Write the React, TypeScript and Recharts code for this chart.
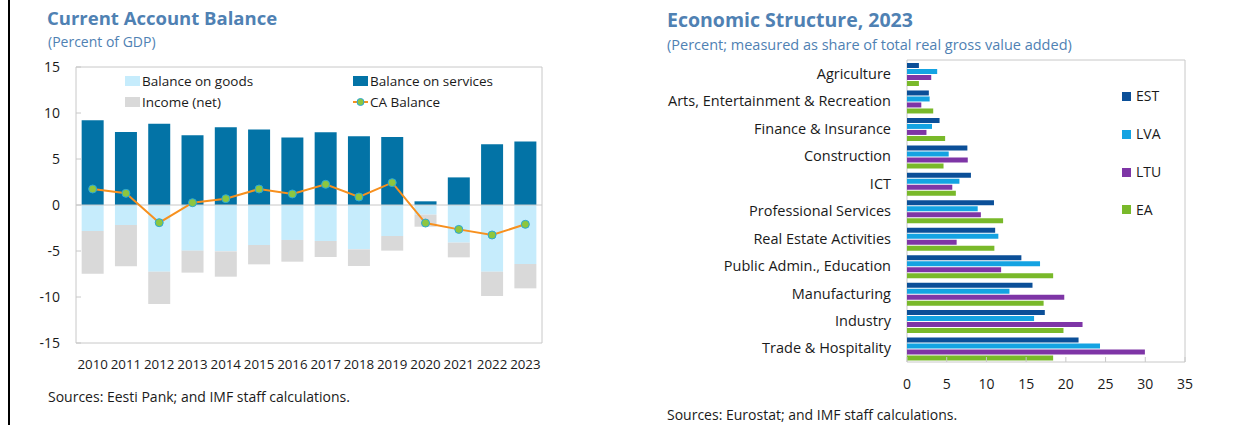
import React from 'react';
import {
  ComposedChart,
  BarChart,
  Bar,
  Line,
  XAxis,
  YAxis,
  ReferenceLine,
  ReferenceArea,
  Legend,
} from 'recharts';

// ---------- Left chart data: Current Account Balance (percent of GDP) ----------
const years = ['2010', '2011', '2012', '2013', '2014', '2015', '2016', '2017', '2018', '2019', '2020', '2021', '2022', '2023'];
const goodsBalance = [-2.83, -2.17, -7.25, -4.96, -5.04, -4.35, -3.8, -3.91, -4.82, -3.37, -1.05, -4.09, -7.25, -6.41];
const servicesBalance = [9.2, 7.93, 8.84, 7.57, 8.44, 8.22, 7.35, 7.9, 7.46, 7.39, 0.4, 3.0, 6.6, 6.9];
const incomeNet = [-4.63, -4.5, -3.51, -2.39, -2.75, -2.1, -2.36, -1.74, -1.81, -1.59, -1.31, -1.6, -2.64, -2.65];
const caBalance = [1.74, 1.27, -1.92, 0.25, 0.69, 1.74, 1.2, 2.25, 0.87, 2.43, -1.96, -2.65, -3.26, -2.1];
const caTicks = [-15, -10, -5, 0, 5, 10, 15];

// ---------- Right chart data: Economic Structure, 2023 ----------
const sectors = [
  'Agriculture',
  'Arts, Entertainment & Recreation',
  'Finance & Insurance',
  'Construction',
  'ICT',
  'Professional Services',
  'Real Estate Activities',
  'Public Admin., Education',
  'Manufacturing',
  'Industry',
  'Trade & Hospitality',
];
const est = [1.5, 2.75, 4.1, 7.6, 8.05, 10.95, 11.1, 14.4, 15.8, 17.35, 21.6];
const lva = [3.8, 2.85, 3.15, 5.25, 6.6, 8.9, 11.5, 16.75, 12.9, 16.0, 24.3];
const ltu = [3.05, 1.8, 2.45, 7.65, 5.7, 9.3, 6.25, 11.85, 19.8, 22.1, 29.95];
const ea = [1.5, 3.3, 4.8, 4.6, 6.15, 12.1, 11.0, 18.4, 17.2, 19.7, 18.4];
const structTicks = [0, 5, 10, 15, 20, 25, 30, 35];

const caData = years.map((y, i) => ({
  year: y,
  goods: goodsBalance[i],
  services: servicesBalance[i],
  income: incomeNet[i],
  ca: caBalance[i],
}));

const structData = sectors.map((s, i) => ({
  name: s,
  EST: est[i],
  LVA: lva[i],
  LTU: ltu[i],
  EA: ea[i],
}));

const FONT = "'Open Sans', 'Noto Sans', sans-serif";
const TITLE = '#4f81b3';
const TEXT = '#1a1a1a';
const FRAME = '#c8c8c8';

const C_GOODS = '#c6ecfc';
const C_SERV = '#0373a6';
const C_INC = '#d9d9d9';
const C_LINE = '#f7901e';

const C_EST = '#0b4f98';
const C_LVA = '#14a3e2';
const C_LTU = '#7e35a6';
const C_EA = '#79b92a';

const tickStyle = { fontSize: 14, fill: TEXT, fontFamily: FONT };
const yearTickStyle = { fontSize: 13.3, fill: TEXT, fontFamily: FONT };
const catTickStyle = { fontSize: 14.5, fill: TEXT, fontFamily: FONT };

const leftLegend = () => {
  const item = (left: number, top: number, label: string, swatch: React.ReactNode) => (
    <div key={label} style={{ position: 'absolute', left, top, display: 'flex', alignItems: 'center', whiteSpace: 'nowrap', fontSize: 13.5, color: TEXT, fontFamily: FONT, lineHeight: '14px' }}>
      {swatch}
      <span style={{ marginLeft: 2 }}>{label}</span>
    </div>
  );
  const box = (c: string) => <span style={{ display: 'inline-block', width: 15, height: 10, background: c }} />;
  const lineSw = (
    <svg width={15} height={10} style={{ display: 'block' }}>
      <line x1={0} y1={5} x2={15} y2={5} stroke={C_LINE} strokeWidth={2} />
      <circle cx={7.5} cy={5} r={3.5} fill="#8dc63f" stroke="#2aa8d8" strokeWidth={1} />
    </svg>
  );
  return (
    <div style={{ position: 'relative', width: 0, height: 0 }}>
      {item(125, 74, 'Balance on goods', box(C_GOODS))}
      {item(353, 74, 'Balance on services', box(C_SERV))}
      {item(125, 95, 'Income (net)', box(C_INC))}
      {item(353, 95, 'CA Balance', lineSw)}
    </div>
  );
};

const rightLegend = () => {
  const items = [
    { label: 'EST', c: C_EST, y: 96 },
    { label: 'LVA', c: C_LVA, y: 134 },
    { label: 'LTU', c: C_LTU, y: 172 },
    { label: 'EA', c: C_EA, y: 209.5 },
  ];
  return (
    <div style={{ position: 'relative', width: 0, height: 0 }}>
      {items.map((it) => (
        <div key={it.label} style={{ position: 'absolute', left: 1122 - 640, top: it.y - 7, display: 'flex', alignItems: 'center', whiteSpace: 'nowrap', fontSize: 14, color: TEXT, fontFamily: FONT, lineHeight: '14px' }}>
          <span style={{ display: 'inline-block', width: 9, height: 9, background: it.c }} />
          <span style={{ marginLeft: 5 }}>{it.label}</span>
        </div>
      ))}
    </div>
  );
};

const abs = (left: number, top: number, extra: React.CSSProperties = {}): React.CSSProperties => ({
  position: 'absolute',
  left,
  top,
  whiteSpace: 'nowrap',
  fontFamily: FONT,
  ...extra,
});

export default function App() {
  return (
    <div style={{ position: 'absolute', left: 0, top: 0, width: 1249, height: 425, background: '#fff', overflow: 'hidden', fontFamily: FONT }}>
      {/* left panel border */}
      <div style={{ position: 'absolute', left: 8, top: 0, width: 2, height: 425, background: '#000' }} />

      {/* Left titles */}
      <div style={abs(47, 5, { fontSize: 18.5, fontWeight: 700, color: TITLE, lineHeight: '26px' })}>Current Account Balance</div>
      <div style={abs(48, 33, { fontSize: 14, color: TITLE, lineHeight: '18px' })}>(Percent of GDP)</div>

      {/* Left chart */}
      <div style={{ position: 'absolute', left: 0, top: 0 }}>
        <ComposedChart
          width={560}
          height={420}
          data={caData}
          stackOffset="sign"
          barCategoryGap="17%"
          margin={{ top: 67, right: 18, bottom: 37, left: 0 }}
        >
          <ReferenceArea y1={-15} y2={15} fill="none" stroke={FRAME} strokeWidth={1} ifOverflow="visible" />
          <XAxis
            dataKey="year"
            interval={0}
            axisLine={false}
            tickLine={false}
            tickSize={0}
            tickMargin={17}
            height={40}
            tick={yearTickStyle}
          />
          <YAxis
            type="number"
            domain={[-15, 15]}
            ticks={caTicks}
            width={76}
            axisLine={false}
            tickLine={{ stroke: FRAME }}
            tickSize={-5}
            tickMargin={21}
            tick={tickStyle}
            allowDataOverflow
          />
          <Bar dataKey="goods" name="Balance on goods" stackId="a" fill={C_GOODS} isAnimationActive={false} />
          <Bar dataKey="services" name="Balance on services" stackId="a" fill={C_SERV} isAnimationActive={false} />
          <Bar dataKey="income" name="Income (net)" stackId="a" fill={C_INC} isAnimationActive={false} />
          <ReferenceLine y={0} stroke={FRAME} strokeWidth={1} />
          <Line
            dataKey="ca"
            name="CA Balance"
            type="linear"
            stroke={C_LINE}
            strokeWidth={2}
            dot={{ r: 4, fill: '#8dc63f', stroke: '#2aa8d8', strokeWidth: 1 }}
            isAnimationActive={false}
          />
          <Legend content={leftLegend} wrapperStyle={{ position: 'absolute', left: 0, top: 0, width: 0, height: 0 }} />
        </ComposedChart>
      </div>

      {/* Left footnote */}
      <div style={abs(48, 388, { fontSize: 14, color: TEXT, lineHeight: '18px' })}>Sources: Eesti Pank; and IMF staff calculations.</div>

      {/* Right titles */}
      <div style={abs(667, 7, { fontSize: 19.5, fontWeight: 700, color: TITLE, lineHeight: '26px' })}>Economic Structure, 2023</div>
      <div style={abs(667, 36, { fontSize: 14.5, color: TITLE, lineHeight: '18px' })}>(Percent; measured as share of total real gross value added)</div>

      {/* Right chart */}
      <div style={{ position: 'absolute', left: 640, top: 0 }}>
        <BarChart
          width={609}
          height={425}
          data={structData}
          layout="vertical"
          barCategoryGap="11%"
          barGap={1}
          margin={{ top: 60, right: 64, bottom: 23, left: 0 }}
        >
          <ReferenceArea x1={0} x2={35} fill="none" stroke={FRAME} strokeWidth={1} ifOverflow="visible" />
          <XAxis
            type="number"
            domain={[0, 35]}
            ticks={structTicks}
            axisLine={false}
            tickLine={{ stroke: FRAME }}
            tickSize={-5}
            tickMargin={22}
            height={40}
            tick={tickStyle}
          />
          <YAxis
            type="category"
            dataKey="name"
            width={267}
            interval={0}
            axisLine={false}
            tickLine={false}
            tickSize={0}
            tickMargin={16}
            tick={catTickStyle}
          />
          <Bar dataKey="EST" fill={C_EST} isAnimationActive={false} />
          <Bar dataKey="LVA" fill={C_LVA} isAnimationActive={false} />
          <Bar dataKey="LTU" fill={C_LTU} isAnimationActive={false} />
          <Bar dataKey="EA" fill={C_EA} isAnimationActive={false} />
          <Legend content={rightLegend} wrapperStyle={{ position: 'absolute', left: 0, top: 0, width: 0, height: 0 }} />
        </BarChart>
      </div>

      {/* Right footnote */}
      <div style={abs(667, 406, { fontSize: 14, color: TEXT, lineHeight: '18px' })}>Sources: Eurostat; and IMF staff calculations.</div>
    </div>
  );
}
